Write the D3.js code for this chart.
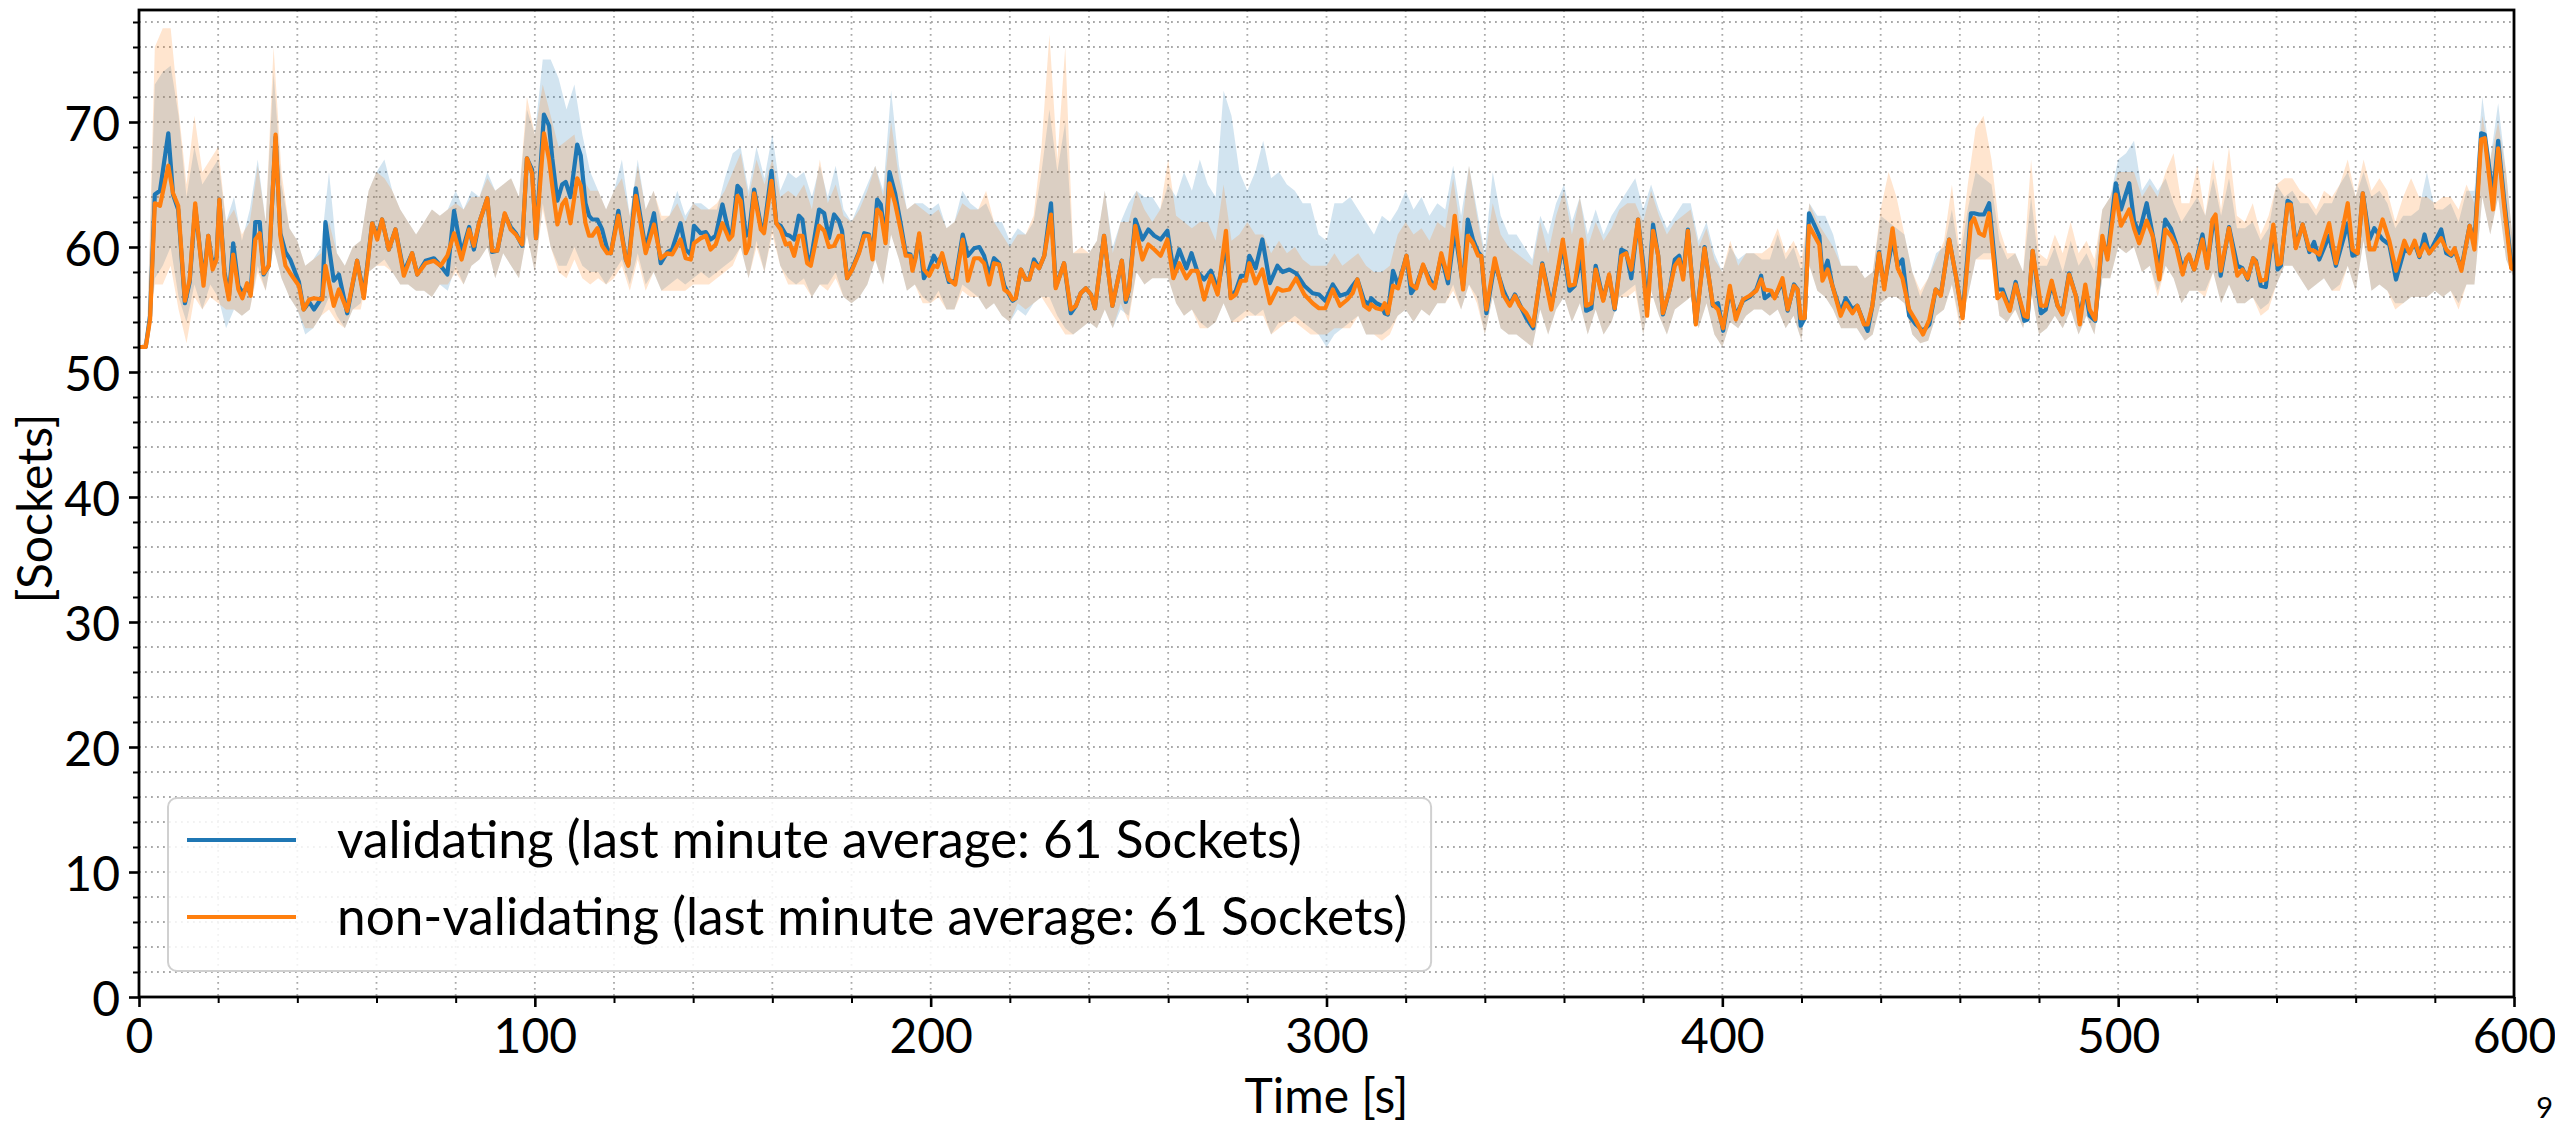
<!DOCTYPE html>
<html><head><meta charset="utf-8">
<script src="https://cdn.jsdelivr.net/npm/d3@7"></script>
<style>
html,body{margin:0;padding:0;background:#fff;overflow:hidden;}
svg{display:block;}
</style></head><body>
<svg id="chart" width="2555" height="1124"></svg>
<script>
// ---------------- DATA ----------------
// Sample times of the mean curves [s]
const t = [
0,1.7,2.8,4.0,5.3,7.4,8.6,9.9,11.6,12.8,
14.2,16.3,17.5,18.6,19.6,20.3,21.6,22.7,23.8,25.1,
26.1,27.3,28.2,29.4,30.5,31.5,32.8,34.5,35.7,37,
38.2,40.4,41.6,43,44.2,46.3,47.1,49.2,50.5,52.6,
55.1,56.8,58.9,60.2,61.4,63.1,64.8,66.9,69,70.3,
72.4,74.5,76.2,77.9,79.6,81.5,83.4,84.6,85.9,88,
89.2,90.5,92.4,93.9,95.2,96.8,98,99.3,100.3,102.3,
103.6,104.4,105.7,106.9,107.8,109,110.7,111.6,112.8,113.7,
114.5,115.8,117,118.3,119.2,121.1,123,123.6,125.5,128,
130.1,131.8,133.5,134.7,136.8,138.1,139.4,140.2,141.9,143.2,
144.4,145.7,147.4,149.1,149.9,151.2,152,153.3,154.1,155.4,
157.1,157.9,159.8,161,162.1,163.4,164.4,165.5,166.7,167.6,
168.8,169.7,171.8,173.1,174.3,175.6,176.8,177.6,178.9,180.2,
181.9,183.2,184.4,185.3,186.5,187.4,188.6,189.6,191,192.4,
193.7,194.9,195.4,196.2,197.1,198.3,199.6,200.8,201.7,202.9,
204.6,206.2,
208.1,209.4,211,212.3,213.5,214.8,216,217.3,218.6,219.8,
220.7,221.5,222.8,224,224.9,226.1,227.4,228.7,230.4,231.6,
233.7,235.4,236.7,237.9,239.2,240.5,241.5,243.8,245.9,248.3,
249.3,250.1,251.7,253.5,255,256.5,258.1,259.8,261.3,262.8,
264.6,265.9,267.4,269.1,270.8,272.5,274.6,275.8,277.1,278.4,
279.6,280.5,282.1,283.8,285.7,287.6,288.9,290.6,292.3,294.4,
296.5,298.1,299.7,301.6,303.4,305.3,306.6,307.8,309.5,310.8,
311.3,312.6,313.9,314.7,315.5,316.8,318.1,320.2,321.4,322.7,
324.4,326.1,327.3,329,330.7,332.4,334.5,335.7,337,338.3,
339.1,340.4,342.5,344.6,346.3,347.6,348.8,350.5,352.2,354.5,
356.8,359.7,361.4,362.7,364.4,365.6,366.9,368,369.9,371.4,
372.8,374.5,375.7,377,378.7,380,381,382.5,383.8,385,
386.7,388,389.1,390.1,391.3,393.3,395.5,397.6,398.9,400.2,
401.9,403.4,405.2,406.9,408.6,409.8,410.7,412.4,413.2,
415.2,416.5,418.1,419,419.8,420.8,421.9,424.5,425.3,426.6,
427.8,429.9,431.2,432.9,434.1,435.8,436.7,437.9,439.6,440.9,
443,444.3,445.5,447.2,448.9,450.7,452.3,453.9,455.2,457.3,
459,460.7,462.8,463.6,464.9,466.1,467.4,469.5,470.8,472.6,
474.1,476.3,477.1,478.4,480.5,481.7,483.2,484.7,485.9,487.6,
489.3,490.3,491.7,492.8,494.2,496,497.3,499.4,500.7,502.8,
504,505.3,507.2,508.7,510.4,511.9,513.3,514.6,516.3,
517.3,517.9,519.2,521.3,522.5,523.8,524.6,525.9,528,530.1,
531.4,532.7,534.1,534.8,536,537.3,539.2,540.3,541.1,542.8,
543.6,544.9,546.6,548.3,549.5,550.8,553.3,555,558,559.2,
560.5,561.8,563.5,564.7,566.8,568.5,570.2,572.3,573.6,574.9,
576.1,577.4,578.6,581.6,582.9,584.1,585,586.7,588.8,590,
591.7,592.6,594.7,596,597.6,599.3,600
];

// Mean sockets, validating (blue)
const validating = [
52,52,54.5,64.2,64.5,69.1,64.2,63,55.5,57.2,
63.2,57.3,60.9,58.5,59.2,63.8,58,56,60.3,56.9,
56.4,56.7,56.3,62,62,57.8,58.5,68.8,61.1,59.6,
59,57.2,55,55.6,55,56,62,57.3,57.8,54.7,
58.9,56.2,61.9,60.9,62.2,59.8,61.4,58,59.5,57.8,
58.9,59.1,58.5,57.8,62.9,59.5,61.6,59.8,61.9,63.9,
59.6,59.7,62.6,61.6,61.1,60.1,67.1,66.2,60.7,70.6,
69.7,67.1,63.7,65,65.2,64,68.2,67.3,63.5,62.5,
62.2,62.2,61.4,59.8,59.5,62.9,59,58.6,64.7,59.8,
62.7,58.7,59.6,59.8,61.9,59.8,59.4,61.7,61.1,61.2,
60.6,60.9,63.4,61,61.3,64.9,64.6,60.9,61.1,64.6,
61.7,61.4,66.1,61.9,61.7,61,60.9,60.6,62.5,62.2,
59.3,58.9,63,62.7,60.7,62.6,62.1,61.3,57.5,58.3,
59.6,61.1,61,59.3,63.8,63.4,60.6,66,64.3,61.9,
59.5,59.4,58.3,59.3,60.9,57.5,58.2,59.3,58.8,59.3,
57.2,57.3,
61,59.3,59.9,60,59.3,57.7,59.1,58.7,56.9,56.2,
55.7,55.9,58.2,57.4,57.4,59,58.3,59.3,63.5,56.8,
58.7,54.7,55.3,56.3,56.7,56.2,55.1,60.9,55.3,58.9,
55.6,56.6,62.2,60.6,61.4,60.9,60.6,61.3,58.2,59.8,
58.3,59.5,58,57.4,58.1,56.6,60.2,56,56.5,57.7,
57.7,59.3,58.3,60.6,57.1,58.5,58,58.2,57.9,56.9,
56.3,56.2,55.7,57,56.1,56.3,56.9,57.4,55.7,55.4,
55.9,55.5,55.3,54.7,54.6,58.1,56.9,59.3,56.3,56.9,
58.5,57.4,56.8,59.3,57.1,61.4,56.9,62.2,60.6,59.6,
59.3,54.7,58.7,56.6,55.4,56.2,55.4,54.3,53.5,58.7,
55.3,60.1,56.5,56.9,59.3,54.9,55.1,58.5,55.8,57.7,
55,59.8,59.6,57.5,62.2,58.7,55,61.8,59.3,54.6,
56.6,59,59.3,57.7,61.4,53.9,60,55.3,55.5,53.3,
56.6,54.5,55.7,56,56.6,57.7,55.9,56.3,56,
57.2,54.9,57,56.6,53.7,54.3,62.7,60.9,57.7,58.9,
56.9,54.8,55.9,55,55.3,53.9,53.3,55.3,59.6,56.9,
60.6,58.5,59,54.5,53.8,53.3,53.8,56.6,56.2,60.6,
57.7,54.5,62.7,62.7,62.6,62.6,63.5,56.6,56.6,55,
57.2,54.1,54.2,59.7,54.7,55,57.1,55.3,54.7,57.9,
56.1,54.5,56.6,54.5,54.1,60.6,59.3,65.1,63,65.1,
62.1,61.1,63.5,61,58.2,62.2,61.5,60.3,58.2,
59.1,59.3,58.2,61,58.5,61.5,62.2,57.7,61.6,58.5,
58.3,57.4,59.1,58.9,56.9,56.8,61.6,58.2,58.5,63.7,
63.5,60.1,61.8,59.6,60.4,59,60.9,58.5,61.9,59.3,
59.5,64.3,60.6,61.5,60.6,60.2,57.4,59.8,59.6,60.3,
59.2,61,59.5,61.4,59.5,59.3,59.7,58.3,61.7,60.4,
69.1,69,64.1,68.5,63.5,58.7,58.4
];

// Mean sockets, non-validating (orange)
const nonValidating = [
52,52,54.2,63.5,63.3,66.5,64.3,63.3,55.7,57.4,
63.5,56.9,60.9,58.2,59,63.8,57.7,55.8,59.4,56.6,
55.9,57.1,56.1,60.6,61.1,57.9,58.5,69,60.9,58.5,
57.9,56.9,55,55.8,55.9,55.8,58.5,55.3,56.6,54.9,
58.9,55.9,61.9,60.6,62.2,59.8,61.4,57.7,59.5,57.8,
58.7,58.9,58.5,59.3,61.1,59,61.4,60.1,61.9,63.9,
59.7,59.7,62.7,61.4,61,60.2,67.1,65.9,60.7,69.1,
67,64.9,61.8,63.4,63.8,61.9,65.5,64.9,61.9,60.9,
60.9,61.5,60.1,59.5,59.5,62.5,59,58.5,64.1,59.5,
61.8,59.1,59.5,59.4,60.6,59.1,59,60.3,60.7,60.9,
59.8,60.2,61.9,60.6,60.9,64.1,63.7,59.5,60.1,64.3,
61.4,61.1,65.3,61.9,61.4,60.2,60.3,59.3,60.9,60.9,
58.7,58.5,61.7,61.3,60,60.1,60.9,60.9,57.5,58.2,
59.5,60.9,60.9,59,63,62.7,60.3,65.1,63.5,61.4,
59.3,59.3,58.1,59.1,61.1,58.2,57.7,58.5,58.4,59.5,
57.4,57.0,
60.6,57.3,59.1,59.1,58.7,57,58.7,58.6,56.6,56.3,
55.8,55.9,58.2,57.4,57.4,58.7,58.3,59.3,62.6,56.7,
58.7,55,55.3,56.3,56.7,56.2,55.1,60.9,55.3,58.9,
55.8,56.6,61.7,59,60.2,59.8,59.3,60.6,57.5,58.7,
57.5,58.1,58.1,55.8,57.7,56.2,61.3,55.9,56.2,57.3,
57.3,58.7,57.1,58.2,55.5,56.7,56.5,56.6,57.5,56.2,
55.5,55.1,55.1,56.6,55.3,55.8,56.3,57.4,55.3,55,
55.4,55.1,55,55.5,54.7,56.9,56.7,59.3,57,56.7,
58.6,57.1,56.7,59.5,57.5,62.5,56.6,60.9,60.3,59.3,
59.3,55,59.1,56.2,55.3,56.1,55.3,54.7,53.7,58.6,
55,60.6,56.9,57,60.6,55.3,55.5,58.2,55.7,57.8,
55.1,59.3,59.5,58.2,62.2,58.1,54.5,61.3,59.3,54.7,
56.6,58.5,59,57.4,61.3,53.8,59.9,55.4,55,53.5,
56.9,54.2,55.8,56.1,56.5,57.4,56.6,56.5,55.9,
57.5,55,56.9,56.6,54.3,54.3,61.7,60.2,57.3,58.2,
56.9,54.5,55.5,54.7,55.3,53.8,53.8,55.3,59.5,56.6,
61.5,58.3,57.5,55,54.1,53,54.2,56.6,56.1,60.6,
57.7,54.3,61.9,62.3,61.1,60.9,62.7,55.9,56.3,54.9,
57,54.5,54.4,59.7,55.3,55.3,57.3,55.3,54.6,57.8,
56.1,53.8,57,55,54.2,60.9,59,64.2,61.7,63,
61.5,60.3,62.1,60.9,57.4,61.4,60.9,60.1,57.8,
59.1,59.4,58.2,60.6,58.3,62.2,62.6,58.1,61.5,57.7,
58.2,57.5,59.1,58.8,57.3,57.4,61.8,58.6,58.7,63.4,
63.4,59.9,61.8,59.8,59.7,59.4,61.9,58.7,63.5,59.8,
59.5,64.3,59.8,59.8,62.2,60.5,58.1,60.5,59.5,60.5,
59.3,60.2,59.5,60.7,59.8,59.4,59.9,58.1,61.7,59.8,
68.6,68.7,63,67.9,63,58.3,58.2
];

// Spread bands, sampled every 2 s from 0 to 600 s
const bandStep = 2;
const validatingHi = [
52,52.5,73,74,74.5,70.5,64,68,65,66,
67,62,64,60.5,63,67,62,74,65,61.5,
60.5,58.5,59,60,66,59.5,58.5,60,60.5,64.5,
66,67,64.5,63,62,61,62,63,62.5,63,
64.5,63,64.5,64,66,64.5,65,65.5,64,71,
69,75,75,73.5,71,73,69,66,64.5,63,
64.5,67,62.5,67,63,64.5,62,62.5,64.5,62.5,
63.5,63.5,63,63,65.5,67.5,68,64.5,68,65.5,
69,64.5,66,65.5,66,64,66.5,64,66.5,63,
62,63.5,65,66.5,64.5,72.5,66.5,63,63.5,63.5,
63,63.5,61.5,62,64.5,63.5,63,63.5,62,62,
60.5,61.5,61,62,66,71,66,70,59.5,59.5,
59.5,60.5,64.5,60,62,63.5,64.5,64,64,63,
65,64,66,64.5,67,65,64,72.5,70.5,66,
64.5,66,68.5,65.5,66,65,64.5,63.5,63.5,61,
60.5,63.5,63.5,64,63,62,61,62.5,62,63,
64.5,63,64,62.5,63.5,63,66.5,62.5,66.5,63,
59.5,66,62.5,61,61,60,59,62.5,61,63.5,
65,62,64,61,63,61,62.5,63.5,64.5,65.5,
63,65,63,61.5,62.5,63.5,63.5,60.5,62,59.5,
58,60,59,59.5,59.5,59,59,61,59,60,
58,63.5,62.5,62.5,61,58.5,58.5,58.5,57.5,58,
62.5,62,61.5,61,58,56,57.5,59.5,60,63,
59,63,66,65.5,65,60.5,59,59.5,58,64,
58.5,58.5,60,58,60.5,58.5,59.5,58,63,64,
67,67.5,68.5,64.5,65.5,64.5,65.5,63.5,62,63,
64,62.5,65.5,62.5,65.5,61.5,61.5,62,60.5,61.5,
65,64,64.5,63.5,63.5,62.5,63.5,63.5,65,66,
64,66,64,64.5,63.5,61.5,62.5,62.5,63,66,
63,63,63.5,62,64.5,64.5,72,67,71.5,66,
59.5
];
const validatingLo = [
52,52,57.5,58.5,60,56,54,57,55,57,
56,53.5,55,54.5,55,58.5,56.5,60,57.5,56,
55,53,53.5,54.5,56,54.5,53.5,55,55.5,58,
58.5,59,58,57,57,56.5,56.5,56,57,56.5,
58.5,57,58.5,59,60,57.5,59.5,58.5,57.5,61,
58,63.5,60,58.5,58.5,60,58.5,58,58,57,
58,59,57,59.5,57,58,56.5,57,57.5,57,
57.5,58,57.5,58,58.5,59,60,57.5,60.5,58,
61.5,58.5,57.5,57,57.5,56,57,57,58,56,
55.5,56,57,59,57,61,59,56.5,57,56,
55.5,56.5,55,55,57,56.5,56,55,55.5,54.5,
54,55,54.5,55.5,56,56,54.5,53.5,53,53.5,
54,53.5,55,53.5,55,54.5,58,57,57.5,57.5,
57.5,55.5,54.5,55,54,53.5,54,55.5,54,54.5,
55,54.5,55,53,54,54,54.5,54,53.5,53,
52,53,53.5,54,54.5,53,53,53,53.5,54.5,
55,54,55,54.5,55.5,55.5,57,55,57,56,
53,56,53.5,53,53,52.5,52,55,53,55,
56,54,55.5,53,55,53,54,56,56.5,57,
53,56.5,54.5,53,55,55.5,56,53.5,55.5,53,
52,54,53.5,54.5,55,55,54.5,55,53.5,54.5,
52.5,58.5,56.5,56,55,53.5,53.5,53.5,52.5,53,
55.5,56,56,55.5,53,52.3,52.5,54.5,55,57,
54,56,59,59.5,59.5,54.5,54,55,53.5,56.5,
53,53.5,54.5,53.5,55,53,54.5,53,57.5,57.5,
60,59.5,60,58,58.5,56.5,58.5,57.5,55.5,56.5,
56.5,56.5,58,55.5,57,55.5,55.5,56,55,55.5,
57,58.5,58.5,57.5,56.5,57,57.5,56.5,57,58.5,
56.5,60.5,56.5,57,56.5,55.5,55.5,56,56,56,
56.5,56,56.5,55.5,57,57,64,61,64,59,
57.5
];
const nonValidatingHi = [
52,52.5,76,77.5,77.5,71,65,70.5,66,67,
68,62,63,61,62,66.5,62,76,66,61.5,
60.5,58.5,59,59.5,62,59.5,58.5,60,60.5,64.5,
66,65.5,64.5,63,62,61,62,63,62.5,63,
63.5,63,64,64,65.5,64.5,65,65.5,64,72,
69,73,70.5,68,68.5,69,65.5,64.5,64.5,63,
64.5,65.5,62.5,66.5,63,64.5,62.5,62.5,63.5,62,
63.5,63,63,63.5,64.5,66,67.5,64,67,65,
67,64,64.5,64,65,63,67,63.5,65,62.5,
62,63,64.5,66.5,64,70,65.5,63,63.5,63,
62.5,63,61.5,62,63.5,63,63,64.5,62,61,
60,61,61,62.5,68,77,67,76,59.5,60,
59.5,60.5,64.5,59.5,62,62,64.5,63,62,63,
67,62.5,62,61.5,62,62,60.5,65,60.5,61,
62,61,61,59.5,60.5,59.5,60,59,58.5,58.5,
58.5,59.5,58.5,59,59.5,58.5,58,58,58.5,61,
62,61,61.5,60.5,62,61.5,65.5,61,66.5,62.5,
59,63.5,61,60,59.5,59,58.5,62,59.5,62.5,
64.5,61,64,60,62,60.5,61.5,63,63.5,63.5,
62,64.5,62.5,61,62,62.5,63,60,61.5,59,
58,60.5,58.5,59.5,59.5,59.5,60,61.5,59.5,60.5,
59,63.5,62,61,60,58.5,58.5,58.5,57.5,58,
63,66,64,61,58,56.5,57.5,59,60.5,65,
59.5,65,69.5,70.5,67,61.5,59.5,59.5,58,67,
59.5,59,61,59.5,62,59.5,60.5,59,63,64,
66,66,66,64,65,64,66,67.5,63.5,63.5,
66.5,62.5,67,63,68,62.5,62,63.5,61,62.5,
65,65.5,65.5,64.5,64,63,64.5,64,65,67,
64,67,64.5,65.5,64.5,62,64,65.5,64,64,
63.5,64,64,63,65,63.5,70.5,67,70,66,
59.5
];
const nonValidatingLo = [
52,52,57,57,58.5,55,52.3,56,55,56,
55.5,55,55,54.5,55,58,56.5,60,57.5,56,
55,53.5,53.5,54.5,55,54,53.5,55,55,58,
58.5,58.5,58,57,57,56.5,56.5,56,57,57,
58,57,58.5,59,60,57.5,59.5,58.5,57.5,61,
58,63,60,58,57.5,59,57.5,57,57.5,57,
57.5,58.5,56.5,59,56.5,58,56.5,56.5,56.5,56.5,
57,57,57,57.5,58,58.5,60,57.5,60,58,
61,58.5,57,57,57,56,57,56.5,57.5,56,
55.5,56,57,59,57,61,59,56.5,57,55.5,
55.5,56,55,55,56.5,56,56,55,55.5,54.5,
54,55.5,55,55.5,56,55,54,53,53,53.5,
54,53.5,55,53.5,55.5,54,58,57,57.5,57.5,
57.5,55.5,54.5,55,53.5,53.5,54,55.5,54,54,
54.5,54.5,54.5,53,53.5,54,54,53.5,53,53,
53,53.5,53.5,53.5,54.5,53,53,52.5,53,54.5,
55,54,55,54.5,55.5,55.5,56.5,55,57,55.5,
53,56,53.5,53,53,52.5,52,55,53,55,
56,54,55.5,53,55,53,54,56,56,56.5,
53,56.5,54.5,53,55,55.5,56,53.5,55.5,53,
52,54,53.5,54.5,55,55,54.5,55,53.5,54.5,
52.5,58.5,56.5,56,55,53.5,53.5,53.5,52.5,53,
55.5,56,56,55.5,53,52.3,52.5,54.5,55,57,
53.5,56,59,59,59,54.5,54,55,53.5,56.5,
53,53.5,54.5,53.5,55,53,54.5,53,57.5,57.5,
60,59.5,60,58,58.5,56,58.5,57.5,55.5,56.5,
56.5,56,58,55.5,57,55.5,55.5,56,54.5,55,
57,58.5,58.5,57.5,56.5,57,57.5,56.5,56.5,58.5,
56.5,60.5,56.5,57,56.5,55,55.5,56,56,56,
56.5,56,56.5,55,57,57,64,61,64,59,
57.5
];

const xTicks = [0, 100, 200, 300, 400, 500, 600];
const yTicks = [0, 10, 20, 30, 40, 50, 60, 70];
const seriesNames = ["validating (last minute average: 61 Sockets)",
                     "non-validating (last minute average: 61 Sockets)"];
const xLabel = "Time [s]";
const yLabel = "[Sockets]";
const pageNumber = "9";

// ---------------- LAYOUT / STYLE ----------------
const FONT = "Lato, 'Open Sans', 'DejaVu Sans', sans-serif";
const BLUE = "#1f77b4", ORANGE = "#ff7f0e";
const M = {left: 139, right: 2514, top: 10, bottom: 997};
const x = d3.scaleLinear().domain([0, 600]).range([M.left, M.right]);
const y = d3.scaleLinear().domain([0, 78.96]).range([M.bottom, M.top]);

const svg = d3.select("#chart");
svg.append("rect").attr("width", 2555).attr("height", 1124).attr("fill", "#fff");
svg.append("defs").append("clipPath").attr("id", "plotClip")
  .append("rect").attr("x", M.left).attr("y", M.top)
  .attr("width", M.right - M.left).attr("height", M.bottom - M.top);

// grid (major + minor, dotted)
const grid = svg.append("g").attr("stroke", "#a8a8a8").attr("stroke-width", 1.8)
  .attr("stroke-dasharray", "1.8,4.2");
grid.selectAll("line.gx").data(d3.range(20, 600, 20)).join("line")
  .attr("x1", d => x(d)).attr("x2", d => x(d)).attr("y1", M.top).attr("y2", M.bottom);
grid.selectAll("line.gy").data(d3.range(2, 79, 2)).join("line")
  .attr("y1", d => y(d)).attr("y2", d => y(d)).attr("x1", M.left).attr("x2", M.right);

// data
const n = Math.min(t.length, validating.length, nonValidating.length);
const means = d3.range(n).map(i => ({t: t[i], v: validating[i], nv: nonValidating[i]}));
const bandT = d3.range(0, 600 + bandStep / 2, bandStep);
const nb = Math.min(bandT.length, validatingHi.length, validatingLo.length, nonValidatingHi.length, nonValidatingLo.length);
const bands = d3.range(nb).map(i => ({t: bandT[i], vh: validatingHi[i], vl: validatingLo[i],
                                      nh: nonValidatingHi[i], nl: nonValidatingLo[i]}));

const plot = svg.append("g").attr("clip-path", "url(#plotClip)");
plot.append("path").datum(bands).attr("fill", BLUE).attr("fill-opacity", 0.2)
  .attr("d", d3.area().x(d => x(d.t)).y0(d => y(d.vl)).y1(d => y(d.vh)));
plot.append("path").datum(bands).attr("fill", ORANGE).attr("fill-opacity", 0.2)
  .attr("d", d3.area().x(d => x(d.t)).y0(d => y(d.nl)).y1(d => y(d.nh)));
plot.append("path").datum(means).attr("fill", "none").attr("stroke", BLUE)
  .attr("stroke-width", 4.2).attr("stroke-linejoin", "round")
  .attr("d", d3.line().x(d => x(d.t)).y(d => y(d.v)));
plot.append("path").datum(means).attr("fill", "none").attr("stroke", ORANGE)
  .attr("stroke-width", 4.2).attr("stroke-linejoin", "round")
  .attr("d", d3.line().x(d => x(d.t)).y(d => y(d.nv)));

// axes
const TICKFS = 48;
function styleAxis(g) {
  g.select(".domain").remove();
  g.selectAll(".tick line").attr("stroke", "#000");
  g.selectAll("text").attr("font-family", FONT).attr("font-size", TICKFS).attr("fill", "#000");
}
svg.append("g").attr("transform", `translate(0,${M.bottom})`)
  .call(d3.axisBottom(x).tickValues(d3.range(0, 601, 20).filter(v => v % 100 !== 0)).tickSize(6).tickFormat(""))
  .call(g => { g.select(".domain").remove(); g.selectAll(".tick line").attr("stroke", "#000").attr("stroke-width", 2); });
svg.append("g").attr("transform", `translate(0,${M.bottom})`)
  .call(d3.axisBottom(x).tickValues(xTicks).tickSize(10).tickPadding(12).tickFormat(d3.format("d")))
  .call(styleAxis)
  .call(g => { g.selectAll(".tick line").attr("stroke-width", 2.6); g.selectAll("text").attr("dy", "0.71em"); });

svg.append("g").attr("transform", `translate(${M.left},0)`)
  .call(d3.axisLeft(y).tickValues(d3.range(0, 79, 2).filter(v => v % 10 !== 0)).tickSize(6).tickFormat(""))
  .call(g => { g.select(".domain").remove(); g.selectAll(".tick line").attr("stroke", "#000").attr("stroke-width", 2); });
svg.append("g").attr("transform", `translate(${M.left},0)`)
  .call(d3.axisLeft(y).tickValues(yTicks).tickSize(10).tickPadding(9).tickFormat(d3.format("d")))
  .call(styleAxis)
  .call(g => { g.selectAll(".tick line").attr("stroke-width", 2.6); g.selectAll("text").attr("dy", "0.38em"); });

// spines
svg.append("rect").attr("x", M.left).attr("y", M.top)
  .attr("width", M.right - M.left).attr("height", M.bottom - M.top)
  .attr("fill", "none").attr("stroke", "#000").attr("stroke-width", 2.8);

// axis labels
svg.append("text").attr("x", (M.left + M.right) / 2).attr("y", 1113)
  .attr("text-anchor", "middle").attr("font-family", FONT).attr("font-size", TICKFS)
  .text(xLabel);
svg.append("text").attr("transform", `translate(52,${(M.top + M.bottom) / 2 + 5}) rotate(-90)`)
  .attr("text-anchor", "middle").attr("font-family", FONT).attr("font-size", TICKFS)
  .text(yLabel);

// legend
const leg = svg.append("g");
const legBox = leg.append("rect").attr("x", 168).attr("y", 798).attr("height", 173).attr("rx", 9)
  .attr("fill", "#fff").attr("fill-opacity", 0.85).attr("stroke", "#d0d0d0").attr("stroke-width", 2);
const legY = [840, 917];
const legColors = [BLUE, ORANGE];
let maxW = 0;
const texts = [];
seriesNames.forEach((name, i) => {
  leg.append("line").attr("x1", 187).attr("x2", 296).attr("y1", legY[i]).attr("y2", legY[i])
    .attr("stroke", legColors[i]).attr("stroke-width", 4.2);
  const tx = leg.append("text").attr("x", 337).attr("y", legY[i] + 18)
    .attr("font-family", FONT).attr("font-size", TICKFS).text(name);
  texts.push(tx);
});
// fit legend text to the reference width of the first label (~965 px)
const w0 = texts[0].node().getComputedTextLength();
let legFs = TICKFS * 965 / w0;
legFs = Math.max(40, Math.min(54, legFs));
texts.forEach(tx => tx.attr("font-size", legFs));
texts.forEach(tx => { maxW = Math.max(maxW, tx.node().getComputedTextLength()); });
legBox.attr("width", 337 + maxW + 24 - 168);

// page number
svg.append("text").attr("x", 2553).attr("y", 1118).attr("text-anchor", "end")
  .attr("font-family", FONT).attr("font-size", 29).text(pageNumber);
</script>
</body></html>
